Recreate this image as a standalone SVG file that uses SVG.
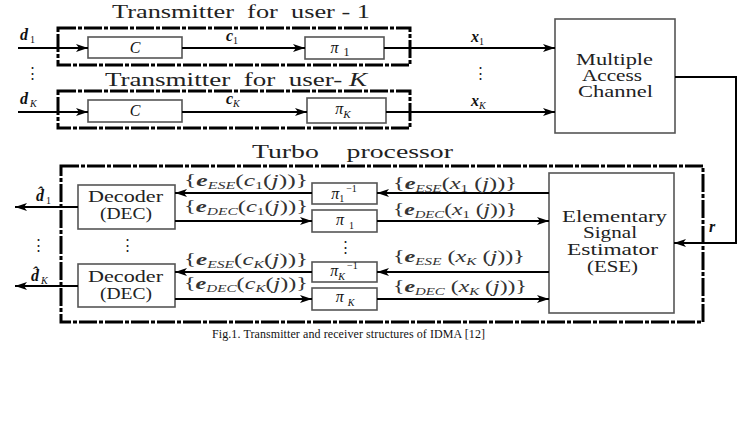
<svg xmlns="http://www.w3.org/2000/svg" width="750" height="421" viewBox="0 0 750 421">
<defs>
<marker id="ah" viewBox="0 0 12 8" refX="12" refY="4" markerWidth="12" markerHeight="8" markerUnits="userSpaceOnUse" orient="auto">
<path d="M0,0 L12,4 L0,8 L3,4 Z" fill="#000"/>
</marker>
<style>
.frame{fill:none;stroke:#000;stroke-width:3;stroke-dasharray:18 2 4 2}
.box{fill:#fff;stroke:#555;stroke-width:1.6}
.arr{fill:none;stroke:#000;stroke-width:2;marker-end:url(#ah)}
.title{font-family:"Liberation Serif",serif;font-size:18px;fill:#222}
.t{font-family:"Liberation Serif",serif;font-size:16px;fill:#222}
.m{font-family:"Liberation Serif",serif;font-size:16px;font-style:italic;fill:#111}
.ml{font-family:"Liberation Serif",serif;font-size:16px;font-style:italic;fill:#333}
.b{font-weight:bold}
.s{font-size:10px}
.cap{font-family:"Liberation Serif",serif;font-size:12px;fill:#111}
.dots{font-family:"Liberation Serif",serif;font-size:15px;fill:#222;text-anchor:middle}
</style>
</defs>
<rect width="750" height="421" fill="#fff"/>

<g id="tx1">
<rect class="frame" x="58" y="28" width="352" height="37"/>
<text class="title" x="112" y="18" textLength="258" lengthAdjust="spacingAndGlyphs">Transmitter&#160; for&#160; user - 1</text>
</g>
<g id="txK">
<rect class="frame" x="58" y="91" width="352" height="37"/>
<text class="title" x="105" y="86" textLength="262" lengthAdjust="spacingAndGlyphs">Transmitter&#160; for&#160; user- <tspan font-style="italic">K</tspan></text>
</g>
<g id="turbo">
<rect class="frame" x="61" y="166" width="642" height="156"/>
<text class="title" x="252" y="158" textLength="201" lengthAdjust="spacingAndGlyphs">Turbo&#160;&#160;&#160;&#160;processor</text>
</g>

<g id="enc1"><rect class="box" x="88" y="37" width="94" height="21"/><text class="m" x="135" y="53" text-anchor="middle">C</text></g>
<g id="pi1"><rect class="box" x="305" y="37" width="79" height="22"/><text class="m" x="340" y="53" text-anchor="middle">π<tspan dx="5" font-size="12" font-style="normal" dy="3">1</tspan></text></g>
<g id="encK"><rect class="box" x="88" y="100" width="94" height="22"/><text class="m" x="135" y="116" text-anchor="middle">C</text></g>
<g id="piK"><rect class="box" x="307" y="98" width="79" height="25"/><text class="m" x="343" y="114" text-anchor="middle">π<tspan font-size="11" dy="4">K</tspan></text></g>

<g id="mac"><rect class="box" x="555" y="19" width="120" height="114"/>
<text class="t" x="576" y="65" textLength="77" lengthAdjust="spacingAndGlyphs">Multiple</text>
<text class="t" x="582" y="81" textLength="60" lengthAdjust="spacingAndGlyphs">Access</text>
<text class="t" x="578" y="97" textLength="75" lengthAdjust="spacingAndGlyphs">Channel</text></g>

<g id="dec1"><rect class="box" x="78" y="185" width="97" height="44"/>
<text class="t" x="88" y="202" textLength="75" lengthAdjust="spacingAndGlyphs">Decoder</text>
<text class="t" x="100" y="219" textLength="52" lengthAdjust="spacingAndGlyphs">(DEC)</text></g>
<g id="decK"><rect class="box" x="78" y="264" width="97" height="43"/>
<text class="t" x="88" y="282" textLength="75" lengthAdjust="spacingAndGlyphs">Decoder</text>
<text class="t" x="100" y="299" textLength="52" lengthAdjust="spacingAndGlyphs">(DEC)</text></g>

<g id="pi1inv"><rect class="box" x="312" y="183" width="65" height="21"/><text class="m" x="344" y="199" text-anchor="middle">π<tspan class="s" font-style="normal" dy="3">1</tspan><tspan class="s" font-style="normal" dx="2" dy="-10">−1</tspan></text></g>
<g id="pi1r"><rect class="box" x="312" y="210" width="65" height="22"/><text class="m" x="345" y="225" text-anchor="middle">π<tspan dx="5" font-style="normal" class="s" dy="4">1</tspan></text></g>
<g id="piKinv"><rect class="box" x="312" y="262" width="65" height="20"/><text class="m" x="344" y="276" text-anchor="middle">π<tspan class="s" dy="4">K</tspan><tspan class="s" font-style="normal" dx="2" dy="-11">−1</tspan></text></g>
<g id="piKr"><rect class="box" x="312" y="288" width="65" height="22"/><text class="m" x="345" y="302" text-anchor="middle">π<tspan dx="4" class="s" dy="4">K</tspan></text></g>

<g id="ese"><rect class="box" x="549" y="173" width="125" height="140"/>
<text class="t" x="562" y="222" textLength="105" lengthAdjust="spacingAndGlyphs">Elementary</text>
<text class="t" x="583" y="238" textLength="54" lengthAdjust="spacingAndGlyphs">Signal</text>
<text class="t" x="567" y="255" textLength="91" lengthAdjust="spacingAndGlyphs">Estimator</text>
<text class="t" x="587" y="272" textLength="51" lengthAdjust="spacingAndGlyphs">(ESE)</text></g>

<g id="connectors">
<line class="arr" x1="18" y1="48" x2="88" y2="48"/>
<line class="arr" x1="182" y1="48" x2="305" y2="48"/>
<line class="arr" x1="384" y1="48" x2="555" y2="48"/>
<line class="arr" x1="18" y1="112" x2="88" y2="112"/>
<line class="arr" x1="182" y1="112" x2="307" y2="112"/>
<line class="arr" x1="386" y1="112" x2="555" y2="112"/>
<polyline class="arr" stroke-width="3" points="675,77 736,77 736,243 674,243"/>
<line class="arr" x1="78" y1="207" x2="15" y2="207"/>
<line class="arr" x1="78" y1="286" x2="15" y2="286"/>
<line class="arr" x1="312" y1="193" x2="175" y2="193"/>
<line class="arr" x1="175" y1="221" x2="312" y2="221"/>
<line class="arr" x1="549" y1="193" x2="377" y2="193"/>
<line class="arr" x1="377" y1="221" x2="549" y2="221"/>
<line class="arr" x1="312" y1="272" x2="175" y2="272"/>
<line class="arr" x1="175" y1="299" x2="312" y2="299"/>
<line class="arr" x1="549" y1="272" x2="377" y2="272"/>
<line class="arr" stroke-width="2.6" x1="377" y1="299" x2="549" y2="299"/>
</g>

<g id="labels">
<text class="m b" x="20" y="40">d<tspan class="s" font-weight="normal" font-style="normal" dx="2" dy="3">1</tspan></text>
<text class="m b" x="20" y="104">d<tspan class="s" font-weight="normal" dx="2" dy="3">K</tspan></text>
<text class="m b" x="226" y="41">c<tspan class="s" font-weight="normal" font-style="normal" dy="3">1</tspan></text>
<text class="m b" x="226" y="104">c<tspan class="s" font-weight="normal" dy="3">K</tspan></text>
<text class="m b" x="471" y="42">x<tspan class="s" font-weight="normal" font-style="normal" dy="3">1</tspan></text>
<text class="m b" x="471" y="106">x<tspan class="s" font-weight="normal" dy="3">K</tspan></text>
<text class="m b" x="36" y="201">d̂<tspan class="s" font-weight="normal" font-style="normal" dx="2" dy="3">1</tspan></text>
<text class="m b" x="31" y="281">d̂<tspan class="s" font-weight="normal" dx="2" dy="3">K</tspan></text>
<text class="m b" x="709" y="232" font-size="13">r</text>

<text class="ml" x="184" y="186" textLength="124" lengthAdjust="spacingAndGlyphs"><tspan font-style="normal">{</tspan><tspan class="b">e</tspan><tspan class="s" dy="3">ESE</tspan><tspan dy="-3" font-style="normal">(</tspan>c<tspan class="s" font-style="normal" dy="3">1</tspan><tspan dy="-3" font-style="normal">(</tspan>j<tspan font-style="normal">))}</tspan></text>
<text class="ml" x="184" y="212" textLength="124" lengthAdjust="spacingAndGlyphs"><tspan font-style="normal">{</tspan><tspan class="b">e</tspan><tspan class="s" dy="3">DEC</tspan><tspan dy="-3" font-style="normal">(</tspan>c<tspan class="s" font-style="normal" dy="3">1</tspan><tspan dy="-3" font-style="normal">(</tspan>j<tspan font-style="normal">))}</tspan></text>
<text class="ml" x="184" y="265" textLength="124" lengthAdjust="spacingAndGlyphs"><tspan font-style="normal">{</tspan><tspan class="b">e</tspan><tspan class="s" dy="3">ESE</tspan><tspan dy="-3" font-style="normal">(</tspan>c<tspan class="s" dy="3">K</tspan><tspan dy="-3" font-style="normal">(</tspan>j<tspan font-style="normal">))}</tspan></text>
<text class="ml" x="184" y="289" textLength="124" lengthAdjust="spacingAndGlyphs"><tspan font-style="normal">{</tspan><tspan class="b">e</tspan><tspan class="s" dy="3">DEC</tspan><tspan dy="-3" font-style="normal">(</tspan>c<tspan class="s" dy="3">K</tspan><tspan dy="-3" font-style="normal">(</tspan>j<tspan font-style="normal">))}</tspan></text>
<text class="ml" x="393" y="189" textLength="124" lengthAdjust="spacingAndGlyphs"><tspan font-style="normal">{</tspan><tspan class="b">e</tspan><tspan class="s" dy="3">ESE</tspan><tspan dy="-3" font-style="normal">(</tspan>x<tspan class="s" font-style="normal" dy="3">1</tspan><tspan dy="-3" font-style="normal"> (</tspan>j<tspan font-style="normal">))}</tspan></text>
<text class="ml" x="393" y="215" textLength="124" lengthAdjust="spacingAndGlyphs"><tspan font-style="normal">{</tspan><tspan class="b">e</tspan><tspan class="s" dy="3">DEC</tspan><tspan dy="-3" font-style="normal">(</tspan>x<tspan class="s" font-style="normal" dy="3">1</tspan><tspan dy="-3" font-style="normal"> (</tspan>j<tspan font-style="normal">))}</tspan></text>
<text class="ml" x="393" y="262" textLength="132" lengthAdjust="spacingAndGlyphs"><tspan font-style="normal">{</tspan><tspan class="b">e</tspan><tspan class="s" dy="3">ESE</tspan><tspan dy="-3" font-style="normal"> (</tspan>x<tspan class="s" dy="3">K</tspan><tspan dy="-3" font-style="normal"> (</tspan>j<tspan font-style="normal">))}</tspan></text>
<text class="ml" x="393" y="292" textLength="134" lengthAdjust="spacingAndGlyphs"><tspan font-style="normal">{</tspan><tspan class="b">e</tspan><tspan class="s" dy="3">DEC</tspan><tspan dy="-3" font-style="normal"> (</tspan>x<tspan class="s" dy="3">K</tspan><tspan dy="-3" font-style="normal"> (</tspan>j<tspan font-style="normal">))}</tspan></text>

<text class="dots" x="32" y="78">⋮</text>
<text class="dots" x="480" y="78">⋮</text>
<text class="dots" x="38" y="250">⋮</text>
<text class="dots" x="127" y="250">⋮</text>
<text class="dots" x="345" y="252">⋮</text>

<text class="cap" x="212" y="338" textLength="273" lengthAdjust="spacing">Fig.1. Transmitter and receiver structures of IDMA [12]</text>
</g>
</svg>
